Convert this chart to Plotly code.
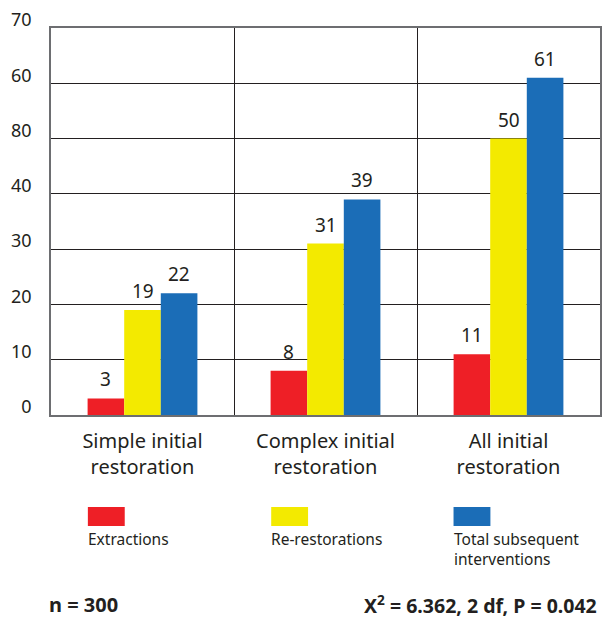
import plotly.graph_objects as go

categories = ["Simple initial<br>restoration", "Complex initial<br>restoration", "All initial<br>restoration"]
series_names = ["Extractions", "Re-restorations", "Total subsequent<br>interventions"]
extractions = [3, 8, 11]
re_restorations = [19, 31, 50]
total_interventions = [22, 39, 61]
y_tickvals = [0, 10, 20, 30, 40, 50, 60, 70]
y_ticktext = ["0", "10", "20", "30", "40", "80", "60", "70"]
colors = ["#ee1f26", "#f3ea00", "#1b6db7"]

FONT = "Noto Sans"
TXT = "#231f20"
BARGAP = 0.4

fig = go.Figure()
all_series = [extractions, re_restorations, total_interventions]
for name, vals, col in zip(series_names, all_series, colors):
    fig.add_trace(go.Bar(
        x=categories, y=vals, name=name, marker=dict(color=col, line=dict(width=0)),
        hoverinfo="skip",
    ))

fig.update_layout(
    width=603, height=619,
    margin=dict(l=51, r=1, t=28, b=204),
    paper_bgcolor="white", plot_bgcolor="white",
    barmode="group", bargap=BARGAP, bargroupgap=0,
    showlegend=False,
    font=dict(family=FONT, color=TXT),
)
fig.update_xaxes(
    type="category", tickson="boundaries", showgrid=True, gridcolor="#231f20", gridwidth=1,
    showline=True, linecolor="#6d6e71", linewidth=1.5, mirror=True,
    ticks="", tickfont=dict(family=FONT, size=20, color=TXT),
    ticklabelstandoff=7,
)
fig.update_yaxes(
    range=[0, 70], tickvals=y_tickvals, ticktext=y_ticktext,
    showgrid=True, gridcolor="#231f20", gridwidth=1, zeroline=False,
    showline=True, linecolor="#6d6e71", linewidth=1.5, mirror=True,
    ticks="", tickfont=dict(family=FONT, size=18, color=TXT),
    ticklabelstandoff=14, ticklabelshift=-8,
)

# value labels above the bars
plot_w = 603 - 51 - 1
bar_px = plot_w / len(categories) * (1 - BARGAP) / len(all_series)
for i, vals in enumerate(all_series):
    off = (i - (len(all_series) - 1) / 2) * bar_px
    for cat, v in zip(categories, vals):
        fig.add_annotation(x=cat, y=v, xref="x", yref="y", xshift=off, yshift=19,
                           yanchor="middle", showarrow=False, text=str(v),
                           font=dict(family=FONT, size=19, color=TXT))

# custom legend below the chart
W, H = 551.0, 387.0
def px(x):
    return (x - 51) / W
def py(y):
    return (415 - y) / H

legend_x = [88, 272, 455]
for lx, col, name in zip(legend_x, colors, series_names):
    fig.add_shape(type="rect", xref="paper", yref="paper",
                  x0=px(lx), x1=px(lx + 37), y0=py(507), y1=py(526),
                  fillcolor=col, line=dict(width=0))
    fig.add_annotation(xref="paper", yref="paper", x=px(lx - 2), y=py(526),
                       xanchor="left", yanchor="top", align="left", showarrow=False,
                       text=name, font=dict(family=FONT, size=15.5, color=TXT))

fig.add_annotation(xref="paper", yref="paper", x=px(47), y=py(604),
                   xanchor="left", yanchor="middle", showarrow=False,
                   text="<b>n = 300</b>", font=dict(family=FONT, size=20, color=TXT))
fig.add_annotation(xref="paper", yref="paper", x=px(601), y=py(604),
                   xanchor="right", yanchor="middle", showarrow=False,
                   text="<b>X<sup>2</sup> = 6.362, 2 df, P = 0.042</b>",
                   font=dict(family=FONT, size=19.5, color=TXT))

fig.write_html("out.html", config={"displayModeBar": False},
               post_script="document.body.style.margin='0';document.body.style.overflow='hidden';")
